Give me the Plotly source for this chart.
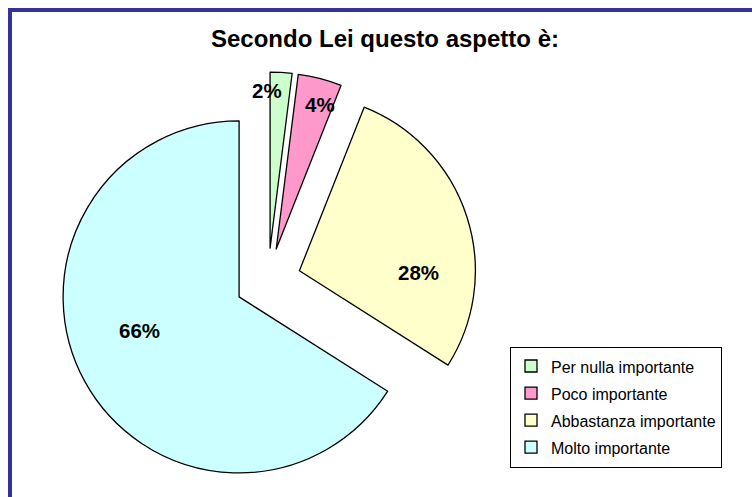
import math
import plotly.graph_objects as go

# Survey answers: how important is this aspect?
categories = ["Per nulla importante", "Poco importante", "Abbastanza importante", "Molto importante"]
shares = [2, 4, 28, 66]
colors = ["#CCFFCC", "#FF99CC", "#FFFFCC", "#CCFFFF"]

W, H = 752, 497
PULL = 0.1875
DOM_X = [0.0785, 0.6343]
DOM_Y = [0.0141, 0.8551]

# label placement (radius fraction and angular shift from slice middle, degrees)
LABEL_RADIUS = [0.895, 0.858, 0.674, 0.597]
LABEL_SHIFT = [-4.9, 2.5, 18.6, 10.2]

LEGEND_FS = 18.5   # drives row spacing
ITEM_FS = 16

fig = go.Figure(
    go.Pie(
        labels=[f"<span style='font-size:{ITEM_FS}px'>{c}</span>" for c in categories],
        values=shares,
        sort=False,
        direction="clockwise",
        rotation=0,
        pull=[PULL] * len(shares),
        textinfo="none",
        hoverinfo="label+percent",
        marker=dict(colors=colors, line=dict(color="#000000", width=1.3)),
        domain=dict(x=DOM_X, y=DOM_Y),
    )
)

# pie geometry as laid out by plotly (no margins)
box_w = W * (DOM_X[1] - DOM_X[0])
box_h = H * (DOM_Y[1] - DOM_Y[0])
cx = W * (DOM_X[0] + DOM_X[1]) / 2
cy = H * (1 - DOM_Y[0]) - box_h / 2
r = min(box_w, box_h) / 2 / (1 + PULL)

total = sum(shares)
annotations = []
cum = 0.0
for v, rf, sh in zip(shares, LABEL_RADIUS, LABEL_SHIFT):
    frac = v / total
    mid = (cum + frac / 2) * 2 * math.pi
    cum += frac
    pcx = cx + PULL * r * math.sin(mid)
    pcy = cy - PULL * r * math.cos(mid)
    a = mid + math.radians(sh)
    lx = pcx + rf * r * math.sin(a)
    ly = pcy - rf * r * math.cos(a)
    annotations.append(dict(
        x=lx / W, y=1 - ly / H, xref="paper", yref="paper",
        text=f"<b>{frac * 100:.0f}%</b>", showarrow=False,
        xanchor="center", yanchor="middle",
        font=dict(family="Liberation Sans, Arial, sans-serif", size=20.5, color="#000000"),
    ))

fig.update_layout(
    width=W, height=H,
    margin=dict(l=0, r=0, t=0, b=0),
    paper_bgcolor="#FFFFFF",
    plot_bgcolor="#FFFFFF",
    font=dict(family="Liberation Sans, Arial, sans-serif", color="#000000"),
    title=dict(
        text="<b>Secondo Lei questo aspetto è:</b>",
        x=385 / W, y=1 - 38.5 / H, xref="paper", yref="paper",
        xanchor="center", yanchor="middle",
        font=dict(family="Liberation Sans, Arial, sans-serif", size=24, color="#000000"),
    ),
    legend=dict(
        x=722 / W, y=1 - 467.5 / H, xanchor="right", yanchor="bottom",
        bgcolor="#FFFFFF", bordercolor="#000000", borderwidth=1,
        font=dict(size=LEGEND_FS, color="#000000"),
        itemclick=False, itemdoubleclick=False,
    ),
    annotations=annotations,
    shapes=[dict(
        type="rect", xref="paper", yref="paper",
        x0=10 / W, x1=1.1, y0=-0.1, y1=1 - 10 / H,
        line=dict(color="#333399", width=4), fillcolor="rgba(0,0,0,0)",
    )],
)

fig.write_html("out.html")
